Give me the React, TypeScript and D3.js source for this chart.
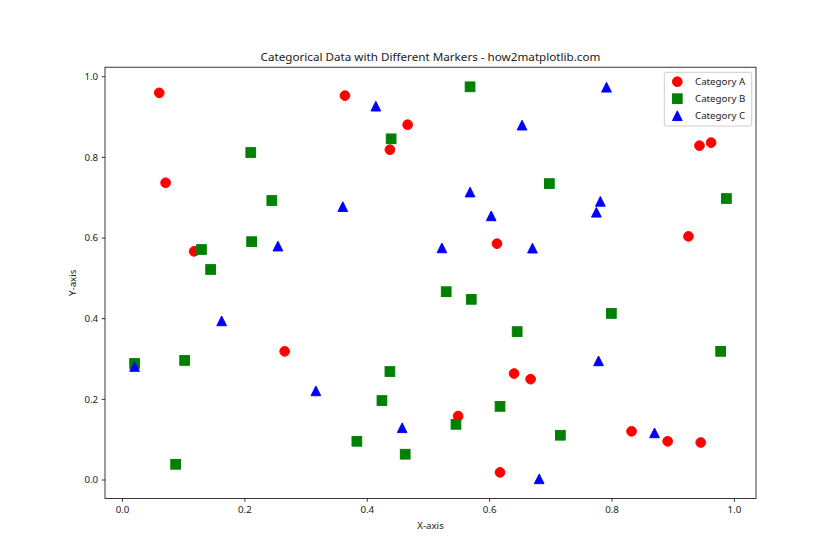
import React from "react";
import * as d3 from "d3";

const catAX = [0.060, 0.0704, 0.117, 0.265, 0.3635, 0.437, 0.466, 0.5485, 0.612, 0.617, 0.640, 0.667, 0.832, 0.891, 0.945, 0.925, 0.943, 0.962];
const catAY = [0.960, 0.737, 0.567, 0.319, 0.953, 0.819, 0.881, 0.1585, 0.586, 0.019, 0.264, 0.250, 0.1206, 0.096, 0.093, 0.604, 0.829, 0.8365];

const catBX = [0.0197, 0.0868, 0.1015, 0.129, 0.144, 0.2096, 0.211, 0.244, 0.383, 0.424, 0.437, 0.439, 0.462, 0.529, 0.545, 0.568, 0.570, 0.617, 0.645, 0.6976, 0.7156, 0.799, 0.9776, 0.987];
const catBY = [0.289, 0.039, 0.2965, 0.5715, 0.522, 0.812, 0.591, 0.693, 0.096, 0.197, 0.269, 0.846, 0.064, 0.467, 0.138, 0.975, 0.448, 0.1826, 0.368, 0.735, 0.111, 0.413, 0.319, 0.698];

const catCX = [0.0197, 0.162, 0.254, 0.316, 0.360, 0.414, 0.457, 0.522, 0.568, 0.6026, 0.653, 0.670, 0.681, 0.7745, 0.781, 0.778, 0.791, 0.8695];
const catCY = [0.2816, 0.3946, 0.580, 0.221, 0.678, 0.927, 0.1296, 0.5755, 0.714, 0.655, 0.880, 0.575, 0.003, 0.664, 0.691, 0.2955, 0.974, 0.117];

const categories = ["Category A", "Category B", "Category C"];
const colors = ["red", "green", "blue"];
const markers = ["circle", "square", "triangle"];
const xTicks = [0.0, 0.2, 0.4, 0.6, 0.8, 1.0];
const yTicks = [0.0, 0.2, 0.4, 0.6, 0.8, 1.0];

const W = 840, H = 560;
const L = 105, R = 756, T = 67.2, B = 498.4;
const FONT = "'Noto Sans', 'DejaVu Sans', sans-serif";
const MS = 9.72; // marker size px
const EW = 0.97; // edge width

function Marker({ kind, x, y, color }: { kind: string; x: number; y: number; color: string }) {
  const h = MS / 2;
  if (kind === "circle") return <circle cx={x} cy={y} r={h} fill={color} stroke={color} strokeWidth={EW} />;
  if (kind === "square") return <rect x={x - h} y={y - h} width={MS} height={MS} fill={color} stroke={color} strokeWidth={EW} />;
  const p = `M${x},${y - h}L${x - h},${y + h}L${x + h},${y + h}Z`;
  return <path d={p} fill={color} stroke={color} strokeWidth={EW} strokeLinejoin="round" />;
}

export default function App() {
  const allX = [...catAX, ...catBX, ...catCX];
  const allY = [...catAY, ...catBY, ...catCY];
  const [x0, x1] = d3.extent(allX) as [number, number];
  const [y0, y1] = d3.extent(allY) as [number, number];
  const mx = (x1 - x0) * 0.05, my = (y1 - y0) * 0.05;
  const xs = d3.scaleLinear().domain([x0 - mx, x1 + mx]).range([L, R]);
  const ys = d3.scaleLinear().domain([y0 - my, y1 + my]).range([B, T]);
  const series = [
    { xs: catAX, ys: catAY },
    { xs: catBX, ys: catBY },
    { xs: catCX, ys: catCY },
  ];
  const fs = 9.72;
  const legX = 664.3, legY = 72.3, legW = 87.4, legH = 53.7;
  return (
    <svg width={W} height={H} style={{ position: "absolute", left: 0, top: 0 }}>
      <rect width={W} height={H} fill="white" />
      {series.map((s, si) =>
        s.xs.map((v, i) => (
          <Marker key={`${si}-${i}`} kind={markers[si]} x={xs(v)} y={ys(s.ys[i])} color={colors[si]} />
        ))
      )}
      <rect x={L} y={T} width={R - L} height={B - T} fill="none" stroke="black" strokeWidth={0.78} />
      {xTicks.map((t) => (
        <g key={`x${t}`}>
          <line x1={xs(t)} x2={xs(t)} y1={B} y2={B + 3.4} stroke="black" strokeWidth={0.78} />
          <text x={xs(t)} y={B + 3.4 + 3.4 + fs * 0.8} textAnchor="middle" fontFamily={FONT} fontSize={fs} fill="#222">
            {t.toFixed(1)}
          </text>
        </g>
      ))}
      {yTicks.map((t) => (
        <g key={`y${t}`}>
          <line x1={L - 3.4} x2={L} y1={ys(t)} y2={ys(t)} stroke="black" strokeWidth={0.78} />
          <text x={L - 3.4 - 3.4} y={ys(t)} dy="0.35em" textAnchor="end" fontFamily={FONT} fontSize={fs} fill="#222">
            {t.toFixed(1)}
          </text>
        </g>
      ))}
      <text x={(L + R) / 2} y={529} textAnchor="middle" fontFamily={FONT} fontSize={fs} fill="#222">X-axis</text>
      <text transform={`translate(76,${(T + B) / 2}) rotate(-90)`} textAnchor="middle" fontFamily={FONT} fontSize={fs} fill="#222">Y-axis</text>
      <text x={(L + R) / 2} y={61} textAnchor="middle" fontFamily={FONT} fontSize={11.67} fill="#222">
        Categorical Data with Different Markers - how2matplotlib.com
      </text>
      <rect x={legX} y={legY} width={legW} height={legH} rx={2} fill="white" fillOpacity={0.8} stroke="#cccccc" strokeWidth={0.97} />
      {categories.map((c, i) => {
        const cy = 81.7 + i * 17;
        return (
          <g key={c}>
            <Marker kind={markers[i]} x={677.3} y={cy} color={colors[i]} />
            <text x={695} y={cy} dy="0.35em" fontFamily={FONT} fontSize={fs} fill="#222">{c}</text>
          </g>
        );
      })}
    </svg>
  );
}
